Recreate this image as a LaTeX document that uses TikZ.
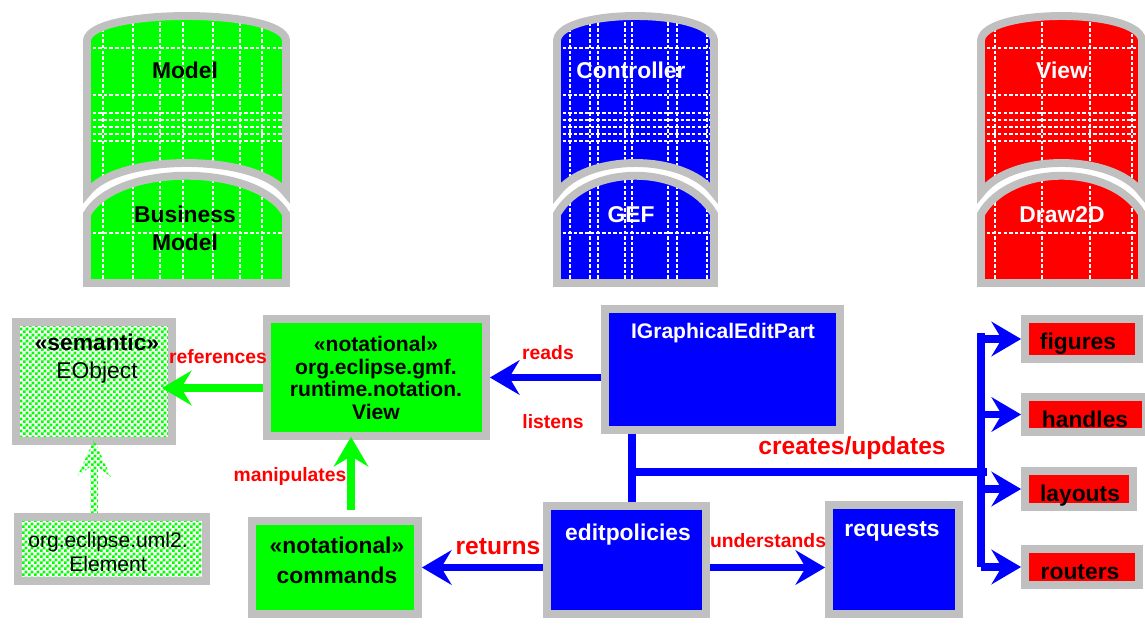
\documentclass[tikz,border=0pt]{standalone}
\usepackage{fontspec}
\setmainfont{Liberation Sans}
\usetikzlibrary{arrows.meta,calc,patterns}
\definecolor{gborder}{RGB}{192,192,192}
\definecolor{cgreen}{RGB}{0,255,0}
\definecolor{cblue}{RGB}{0,0,255}
\definecolor{cred}{RGB}{255,0,0}
\pgfdeclarepatternformonly{finecheck}{\pgfqpoint{0pt}{0pt}}{\pgfqpoint{3.2pt}{3.2pt}}{\pgfqpoint{3.2pt}{3.2pt}}{%
  \pgfpathrectangle{\pgfpointorigin}{\pgfqpoint{1.6pt}{1.6pt}}%
  \pgfpathrectangle{\pgfqpoint{1.6pt}{1.6pt}}{\pgfqpoint{1.6pt}{1.6pt}}%
  \pgfusepath{fill}}
\newcommand\drumA[2]{(#1,193) -- (#1,40) .. controls (#1+4,8) and (#2-4,8) .. (#2,40) -- (#2,193) .. controls (#2-30,153) and (#1+30,153) .. cycle}
\newcommand\drumB[2]{(#1,283) -- (#1,214) .. controls (#1+30,163) and (#2-30,163) .. (#2,214) -- (#2,283) -- cycle}
\newcommand\drawdrum[4]{%
  \fill[#3] \drumA{#1}{#2} \drumB{#1}{#2};
  \begin{scope}
    \clip \drumA{#1}{#2} \drumB{#1}{#2};
    \foreach \vx in {#4} {\draw[texln] (\vx,0) -- (\vx,300);}
    \foreach \hy in {48,95,113,120,127,134,141,233} {\draw[texln] (#1,\hy) -- (#2,\hy);}
  \end{scope}
  \draw[gborder, line width=4.5pt] \drumA{#1}{#2} \drumB{#1}{#2};
}
\begin{document}
\begin{tikzpicture}[x=0.02cm,y=-0.02cm,
  box/.style={draw=gborder, line width=4.5pt, inner sep=0pt},
  checker/.style={pattern=finecheck, pattern color=cgreen},
  arr/.style={line width=4.5pt, -{Stealth[length=17pt,width=20pt,inset=6pt,line width=0pt]}},
  bus/.style={line width=4.5pt, draw=cblue},
  texln/.style={white, line width=0.7pt, dash pattern=on 2pt off 1.2pt},
  rl/.style={text=cred, inner sep=0pt, font=\bfseries\fontsize{11}{12}\selectfont},
  rlbig/.style={text=cred, inner sep=0pt, font=\bfseries\fontsize{14}{16}\selectfont},
  wt/.style={text=white, inner sep=0pt, font=\bfseries\fontsize{13}{15}\selectfont},
  kt/.style={text=black, inner sep=0pt, font=\bfseries\fontsize{13}{15}\selectfont},
  dt/.style={inner sep=0pt, align=center, font=\bfseries\fontsize{13}{16}\selectfont}]
\useasboundingbox (0,0) rectangle (1145,626);

% drums
\drawdrum{87}{286}{cgreen}{103,133,160,183,213,240,262}
\drawdrum{557}{714}{cblue}{570,590,598,625,632,668,677,707}
\drawdrum{981}{1142}{cred}{995,1042,1090,1132}
\node[dt, text=black] (dmodel) at (185,70) {Model};
\node[dt, text=black] (dbm) at (185,228) {Business\\Model};
\node[dt, text=white] (dctrl) at (631,70) {Controller};
\node[dt, text=white] (dgef) at (631,215) {GEF};
\node[dt, text=white] (dview) at (1062,70) {View};
\node[dt, text=white] (dd2d) at (1062,215) {Draw2D};

% boxes
\node[box, checker, minimum width=3.12cm, minimum height=2.38cm] (eobj) at (94,381.5) {};
\node[box, fill=cgreen, minimum width=4.38cm, minimum height=2.34cm] (notv) at (376.5,377.5) {};
\node[box, checker, minimum width=3.76cm, minimum height=1.28cm] (elem) at (112,549) {};
\node[box, fill=cgreen, minimum width=3.32cm, minimum height=1.86cm] (cmds) at (335,567.5) {};
\node[box, fill=cblue, minimum width=4.70cm, minimum height=2.42cm] (igep) at (722.5,369.5) {};
\node[box, fill=cblue, minimum width=3.18cm, minimum height=2.16cm] (editp) at (626.5,560) {};
\node[box, fill=cblue, minimum width=2.60cm, minimum height=2.18cm] (req) at (894,559.5) {};
\node[box, fill=cred, minimum width=2.28cm, minimum height=0.80cm] (fig) at (1082,339) {};
\node[box, fill=cred, minimum width=2.42cm, minimum height=0.70cm] (hdl) at (1085.5,414.5) {};
\node[box, fill=cred, minimum width=2.16cm, minimum height=0.72cm] (lay) at (1079,489) {};
\node[box, fill=cred, minimum width=2.28cm, minimum height=0.72cm] (rtr) at (1082,567) {};

% box texts
\node[inner sep=0pt, align=center, font=\fontsize{13}{16}\selectfont] (eobjt) at (97,359) {\textbf{«semantic»}\\EObject};
\node[inner sep=0pt, align=center, font=\bfseries\fontsize{12}{13}\selectfont] (notvt) at (376,378) {«notational»\\org.eclipse.gmf.\\runtime.notation.\\View};
\node[inner sep=0pt, align=center, font=\fontsize{12}{14}\selectfont] (elemt) at (108,552) {org.eclipse.uml2.\\Element};
\node[inner sep=0pt, align=center, font=\bfseries\fontsize{13}{17}\selectfont] (cmdst) at (337,560) {«notational»\\commands};
\node[wt, font=\bfseries\fontsize{12}{14}\selectfont] (igept) at (723,333) {IGraphicalEditPart};
\node[wt] (editpt) at (628,535) {editpolicies};
\node[wt] (reqt) at (892,531) {requests};
\node[kt] (figt) at (1078,344) {figures};
\node[kt] (hdlt) at (1085,419) {handles};
\node[kt] (layt) at (1080,496) {layouts};
\node[kt] (rtrt) at (1080,572) {routers};

% connectors
\draw[arr, cblue] (igep.west |- notv.east) -- (notv.east);
\draw[arr, cgreen] ($(notv.west)+(0,10.5)$) -- ($(eobj.east)+(-14,6.5)$);
\draw[arr, cgreen] ($(cmds.north)+(16,-7)$) -- ($(notv.south)+(-25.5,-3)$);
\draw[arr, cblue] (editp.west |- cmds.east) -- (cmds.east);
\draw[arr, cblue] (editp.east |- cmds.east) -- (req.west |- cmds.east);
% checkered arrow element -> eobject
\path (elem.north -| eobj.south) coordinate (ea);
\path[checker] ($(ea)+(-4,0)$) -- ($(eobj.south)+(-4,22)$) -- ($(eobj.south)+(-17,32)$) -- ($(eobj.south)+(0,-5)$) -- ($(eobj.south)+(17,32)$) -- ($(eobj.south)+(4,22)$) -- ($(ea)+(4,0)$) -- cycle;
% bus
\coordinate (vb) at ($(editp.north)+(5.5,0)$);
\coordinate (j) at ($(vb)+(0,-30)$);
\coordinate (bt) at (981,333);
\coordinate (bb) at (981,567);
\draw[bus] (vb) -- (vb |- igep.south);
\draw[bus] (j) -- ($(bt |- j)+(6,0)$);
\draw[bus] (bt) -- (bb);
\draw[arr, cblue] (bt |- fig.west) -- (fig.west);
\draw[arr, cblue] (bt |- hdl.west) -- (hdl.west);
\draw[arr, cblue] (bt |- lay.west) -- (lay.west);
\draw[arr, cblue] (bt |- rtr.west) -- (rtr.west);

% labels
\node[rl] (lref) at (218,357) {references};
\node[rl] (lreads) at (548,353) {reads};
\node[rl] (llis) at (553,422) {listens};
\node[rl] (lman) at (290,476) {manipulates};
\node[rlbig] (lcu) at (852,448) {creates/updates};
\node[rlbig] (lret) at (498,547) {returns};
\node[rl] (lund) at (768,541) {understands};
\end{tikzpicture}
\end{document}
